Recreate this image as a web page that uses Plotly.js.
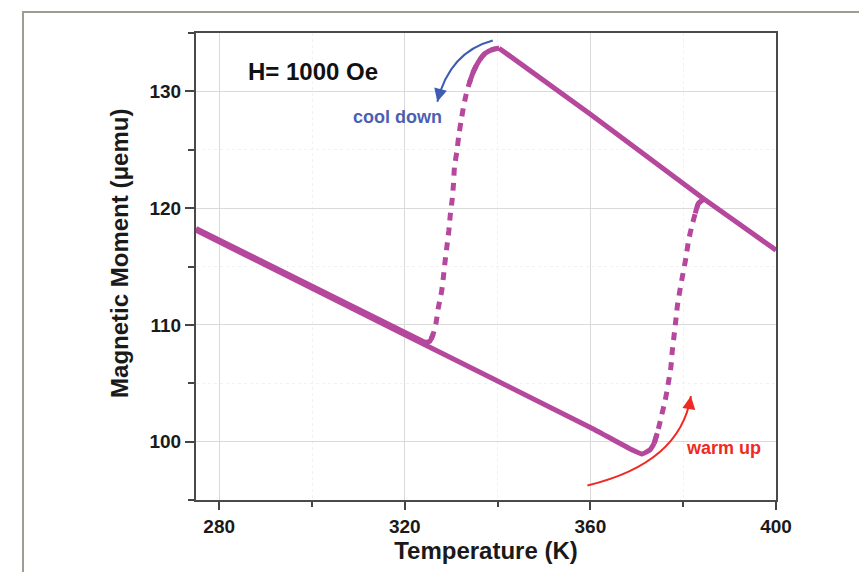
<!DOCTYPE html>
<html><head><meta charset="utf-8">
<script src="https://cdn.plot.ly/plotly-3.0.1.min.js"></script>
<style>
html,body{margin:0;padding:0;background:#fff;}
#wrap{position:relative;width:859px;height:572px;overflow:hidden;}
#chart{position:absolute;left:0;top:0;width:859px;height:572px;}
#frame{position:absolute;left:22px;top:11px;width:900px;height:700px;border-left:2px solid #9d9d95;border-top:2px solid #9d9d95;pointer-events:none;}
</style></head><body>
<div id="wrap"><div id="chart"></div><div id="frame"></div></div>
<script>
// ---- data (Temperature K, Magnetic moment uemu) ----
const highT = [400, 384.4, 360, 340.3];
const highM = [116.4, 120.8, 128.05, 133.7];

const coolDropT = [340.3, 339.0, 337.3, 335.9, 334.8, 333.9, 333.2, 332.6, 332.1, 331.6, 331.2, 330.7, 330.5, 330.2, 329.8, 329.5, 329.1, 328.7, 328.35, 327.95, 327.6, 327.2, 326.7, 326.1, 325.4, 324.4];
const coolDropM = [133.7, 133.6, 133.25, 132.55, 131.7, 130.7, 129.7, 128.55, 127.4, 126.1, 124.8, 123.5, 122.1, 120.7, 119.4, 118.1, 116.8, 115.5, 114.2, 112.9, 112.2, 111.4, 110.1, 109.2, 108.6, 108.5];

const coolLowT = [324.4, 300, 275];
const coolLowM = [108.5, 113.3, 118.25];

const warmLowT = [275, 320, 360, 369.3, 371.1, 372.9, 373.75];
const warmLowM = [118.1, 109.16, 101.21, 99.23, 98.94, 99.32, 99.86];

const warmRiseT = [373.75, 374.4, 374.9, 375.4, 376.0, 376.5, 376.9, 377.35, 377.6, 377.95, 378.35, 378.75, 379.35, 379.95, 380.6, 381.15, 381.9, 382.6, 383.3, 384.4];
const warmRiseM = [99.86, 100.72, 101.49, 102.35, 103.3, 104.33, 105.27, 106.39, 107.6, 108.8, 110.18, 111.64, 113.1, 114.39, 115.77, 117.23, 118.52, 119.55, 120.41, 120.75];

const xTicks = [280, 320, 360, 400];
const yTicks = [100, 110, 120, 130];

// ---- styling ----
const MAG = '#b5489c';
const FONT = 'Liberation Sans, Arial, Helvetica, sans-serif';
const solid = {color: MAG, width: 5};
const dotted = {color: MAG, width: 5, dash: '8px,7px', shape: 'spline', smoothing: 0.6};
const solidCurve = {color: MAG, width: 5, shape: 'spline', smoothing: 0.6};

const traces = [
  {x: coolLowT, y: coolLowM, mode: 'lines', line: solid},
  {x: warmLowT, y: warmLowM, mode: 'lines', line: {color: MAG, width: 5, shape: 'spline', smoothing: 0.5}},
  {x: highT, y: highM, mode: 'lines', line: solid},
  {x: coolDropT, y: coolDropM, mode: 'lines', line: dotted},
  {x: coolDropT.slice(0, 6), y: coolDropM.slice(0, 6), mode: 'lines', line: solidCurve},
  {x: coolDropT.slice(-3), y: coolDropM.slice(-3), mode: 'lines', line: solidCurve},
  {x: warmRiseT, y: warmRiseM, mode: 'lines', line: dotted},
  {x: warmRiseT.slice(-3), y: warmRiseM.slice(-3), mode: 'lines', line: solidCurve},
  {x: warmRiseT.slice(0, 2), y: warmRiseM.slice(0, 2), mode: 'lines', line: solidCurve}
].map(t => Object.assign(t, {showlegend: false, hoverinfo: 'skip'}));

// curved arrows (data coordinates)
const blueArrow = {start: [338.96, 134.36], ctrl: [329.7, 133.39], tip: [327.01, 129.12]};
const redArrow = {start: [359.36, 96.25], ctrl: [379.35, 98.14], tip: [381.66, 103.9]};
const BLUE = '#3d5cb2';
const RED = '#ee2a22';
function qpath(a) {
  return `M ${a.start[0]},${a.start[1]} Q ${a.ctrl[0]},${a.ctrl[1]} ${a.tip[0]},${a.tip[1]}`;
}

const layout = {
  width: 859, height: 572,
  margin: {l: 196, r: 83, t: 33, b: 72, pad: 0},
  paper_bgcolor: 'rgba(0,0,0,0)', plot_bgcolor: '#fff',
  font: {family: FONT, color: '#1a1a1a'},
  xaxis: {
    range: [275, 400], tickmode: 'array', tickvals: xTicks,
    ticks: 'outside', ticklen: 8, tickwidth: 2, tickcolor: '#444',
    showline: true, linecolor: '#4a4a4a', linewidth: 2, mirror: true,
    showgrid: true, gridcolor: '#dadada', gridwidth: 1, zeroline: false,
    tickfont: {family: FONT, size: 19, color: '#1a1a1a', weight: 'bold'},
    minor: {dtick: 20, tick0: 280, ticks: 'outside', ticklen: 5, tickwidth: 2, tickcolor: '#444', showgrid: true, gridcolor: '#f1f1f1', griddash: 'dot'},
    title: {text: 'Temperature (K)', font: {family: FONT, size: 24, color: '#1a1a1a', weight: 'bold'}, standoff: 6}
  },
  yaxis: {
    range: [95, 135], tickmode: 'array', tickvals: yTicks,
    ticks: 'outside', ticklen: 9, tickwidth: 2, tickcolor: '#444',
    showline: true, linecolor: '#4a4a4a', linewidth: 2, mirror: true,
    showgrid: true, gridcolor: '#dadada', gridwidth: 1, zeroline: false,
    tickfont: {family: FONT, size: 19, color: '#1a1a1a', weight: 'bold'},
    minor: {dtick: 5, tick0: 95, ticks: 'outside', ticklen: 6, tickwidth: 2, tickcolor: '#444', showgrid: true, gridcolor: '#f1f1f1', griddash: 'dot'}
  },
  shapes: [
    {type: 'path', xref: 'x', yref: 'y', path: qpath(blueArrow), line: {color: BLUE, width: 2}},
    {type: 'path', xref: 'x', yref: 'y', path: qpath(redArrow), line: {color: RED, width: 2}}
  ],
  annotations: [
    {xref: 'paper', yref: 'paper', x: -0.131, y: 0.527, text: 'Magnetic Moment (μemu)', textangle: -90, showarrow: false,
     font: {family: FONT, size: 24, color: '#1a1a1a', weight: 'bold'}, xanchor: 'center', yanchor: 'middle'},
    {x: 300.2, y: 131.67, text: 'H= 1000 Oe', showarrow: false, font: {family: FONT, size: 24, color: '#111', weight: 'bold'}, xanchor: 'center', yanchor: 'middle'},
    {x: 318.4, y: 127.8, text: 'cool down', showarrow: false, font: {family: FONT, size: 18, color: '#4d5fb3', weight: 'bold'}, xanchor: 'center', yanchor: 'middle'},
    {x: 388.6, y: 99.45, text: 'warm up', showarrow: false, font: {family: FONT, size: 18, color: RED, weight: 'bold'}, xanchor: 'center', yanchor: 'middle'},
    {x: blueArrow.tip[0], y: blueArrow.tip[1], text: '', showarrow: true, arrowhead: 2, arrowsize: 1.3, arrowwidth: 2, arrowcolor: BLUE, ax: 3.5, ay: -13.6, standoff: 0},
    {x: redArrow.tip[0], y: redArrow.tip[1], text: '', showarrow: true, arrowhead: 2, arrowsize: 1.3, arrowwidth: 2, arrowcolor: RED, ax: -2.2, ay: 13.8, standoff: 0}
  ]
};

Plotly.newPlot('chart', traces, layout, {displayModeBar: false, staticPlot: true});
</script></body></html>
